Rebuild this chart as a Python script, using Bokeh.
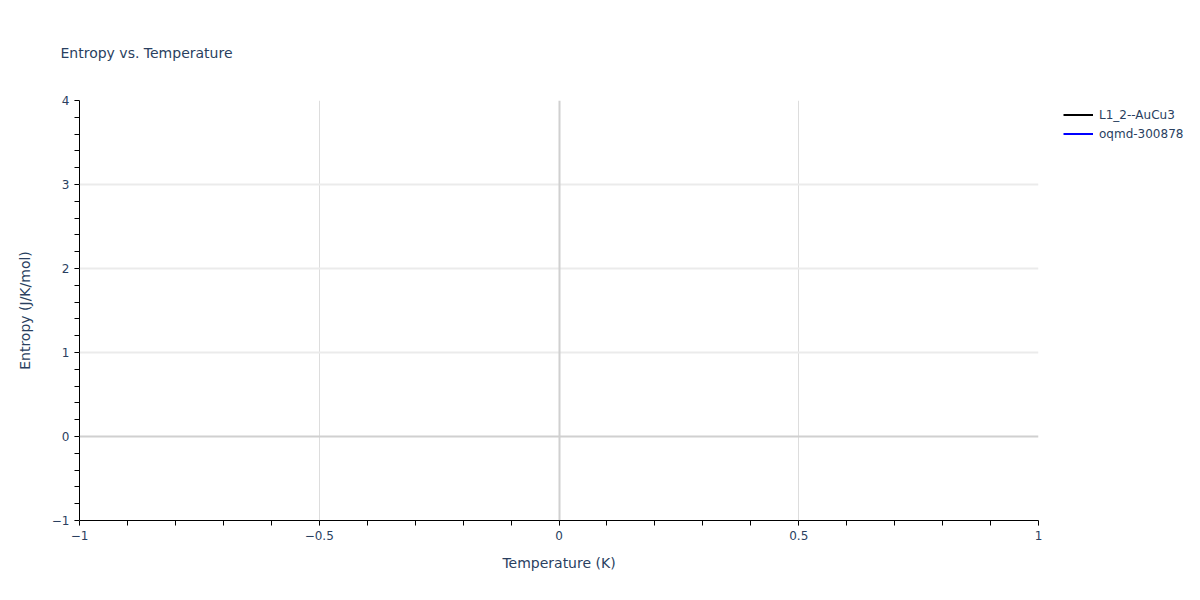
from bokeh.embed import file_html
from bokeh.models import FixedTicker, Grid, Legend, LegendItem
from bokeh.plotting import figure
from bokeh.resources import INLINE

# Chart data: the reference shows two legend entries but no visible points
series_names = ['L1_2--AuCu3', 'oqmd-300878']
series_colors = ['black', 'blue']
temperature = [[float('nan')], [float('nan')]]
entropy = [[float('nan')], [float('nan')]]

x_ticks = [-1, -0.5, 0, 0.5, 1]
x_tick_labels = ['\u22121', '\u22120.5', '0', '0.5', '1']
y_ticks = [-1, 0, 1, 2, 3, 4]
y_tick_labels = ['\u22121', '0', '1', '2', '3', '4']

FONT = 'DejaVu Sans'
TEXT_COLOR = '#2a3f5f'

p = figure(frame_width=959, frame_height=420, x_range=(-1, 1), y_range=(-1, 4), output_backend="svg",
           toolbar_location=None, min_border_left=79, min_border_right=146,
           min_border_top=100, min_border_bottom=64, title='Entropy vs. Temperature')
p.outline_line_color = None
p.title.text_font = FONT
p.title.text_font_size = '14px'
p.title.text_font_style = 'normal'
p.title.text_color = TEXT_COLOR
p.title.offset = -19
# push the title up, but keep its box inside the 100px top border
p.title.standoff = 80

# axes
for ax, ticks, labels in [(p.xaxis[0], x_ticks, x_tick_labels), (p.yaxis[0], y_ticks, y_tick_labels)]:
    ax.ticker = FixedTicker(ticks=ticks, minor_ticks=[t / 10 for t in range(-10, 41)] if ax is p.xaxis[0]
                            else [t / 5 for t in range(-5, 21)])
    ax.major_label_overrides = dict(zip(ticks, labels))
    ax.axis_line_color = 'black'
    ax.axis_line_width = 1
    ax.major_tick_line_color = '#aaaaaa'
    ax.major_tick_in = 0
    ax.major_tick_out = 5
    ax.minor_tick_line_color = 'black'
    ax.minor_tick_in = 0
    ax.minor_tick_out = 5
    ax.major_label_text_font = FONT
    ax.major_label_text_font_size = '12px'
    ax.major_label_text_color = TEXT_COLOR
    ax.axis_label_text_font = FONT
    ax.axis_label_text_font_size = '14px'
    ax.axis_label_text_font_style = 'normal'
    ax.axis_label_text_color = TEXT_COLOR

p.xaxis.axis_label = 'Temperature (K)'
p.xaxis.axis_label_standoff = 12
p.yaxis.axis_label = 'Entropy (J/K/mol)'
p.yaxis.axis_label_standoff = 16
p.yaxis.major_label_orientation = 'horizontal'

# grid lines
p.xgrid.ticker = FixedTicker(ticks=[t for t in x_ticks if t not in (0, x_ticks[0], x_ticks[-1])])
p.xgrid.grid_line_color = '#dddddd'
p.xgrid.grid_line_width = 1
p.ygrid.ticker = FixedTicker(ticks=[t for t in y_ticks if t not in (0, y_ticks[0], y_ticks[-1])])
p.ygrid.grid_line_color = '#ebebeb'
p.ygrid.grid_line_width = 2

p.add_layout(Grid(dimension=0, ticker=FixedTicker(ticks=[0]), grid_line_color='#d0d0d0', grid_line_width=2))
p.add_layout(Grid(dimension=1, ticker=FixedTicker(ticks=[0]), grid_line_color='#d0d0d0', grid_line_width=2))

# series
items = []
for name, color, xs, ys in zip(series_names, series_colors, temperature, entropy):
    r = p.line(xs, ys, line_color=color, line_width=2)
    items.append(LegendItem(label=name, renderers=[r]))

legend = Legend(items=items, location=(25, 377), padding=0, margin=0, spacing=0,
                glyph_width=30, glyph_height=19, label_height=19, label_standoff=6,
                label_text_font=FONT, label_text_font_size='12px', label_text_color=TEXT_COLOR,
                border_line_color=None, background_fill_alpha=0)
p.add_layout(legend, 'right')

open("out.html", "w").write(file_html(p, INLINE))
